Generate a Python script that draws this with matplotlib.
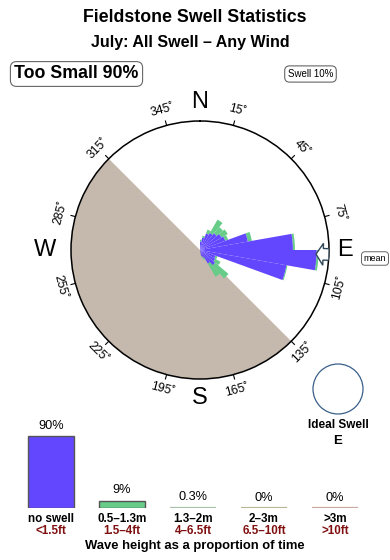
import numpy as np
import matplotlib
matplotlib.use("Agg")
import matplotlib.pyplot as plt
from matplotlib.patches import Circle

plt.rcParams['font.family'] = ['Liberation Sans', 'DejaVu Sans']

# ---------------- data ----------------
title = "Fieldstone Swell Statistics"
subtitle = "July: All Swell \u2013 Any Wind"
too_small_pct = 90
swell_pct = 10

# swell rose: direction bins (deg, compass) and % of time per height class
rose_dirs = [5, 15, 25, 35, 45, 55, 65, 75, 85, 95, 105, 115, 125, 135, 145, 155, 165]
rose_noswell = [0.8, 1.2, 1.7, 1.9, 2.1, 2.4, 2.6, 4.7, 9.0, 11.3, 8.5, 1.6, 1.7, 1.9, 1.5, 0.8, 0.6]
rose_small = [0.2, 0.2, 0.4, 1.5, 0.8, 0.7, 0.3, 0.4, 0.2, 0.2, 0.1, 0.2, 0.6, 1.7, 1.5, 0.2, 0.1]
rose_max = 12.5
bin_width = 10
mean_dir = 92
land_from, land_to = 135, 315
deg_ticks = [15, 45, 75, 105, 135, 165, 195, 225, 255, 285, 315, 345]
compass = {"N": 0, "E": 90, "S": 180, "W": 270}
ideal_dir_label = "E"

# wave height distribution
height_cats = ["no swell", "0.5\u20131.3m", "1.3\u20132m", "2\u20133m", ">3m"]
height_ft = ["<1.5ft", "1.5\u20134ft", "4\u20136.5ft", "6.5\u201310ft", ">10ft"]
height_pct = [90, 9, 0.3, 0, 0]
height_lbl = ["90%", "9%", "0.3%", "0%", "0%"]

PURPLE = "#6347FF"
GREEN = "#66CC88"
LAND = "#C4B9AC"
bar_colors = [PURPLE, GREEN, "#A8C0A8", "#B8B898", "#C8A8A0"]
bar_edges = ["#555555", "#555555", "#A8C0A8", "#B8B898", "#C8A8A0"]
DARKRED = "#801010"

W, H = 390, 560
fig = plt.figure(figsize=(W / 100, H / 100), dpi=100)

def fx(x):
    return x / W

def fy(y):
    return 1 - y / H

# ---------------- titles ----------------
fig.text(fx(195), fy(18), title, ha='center', va='center', fontsize=12.8, fontweight='bold')
fig.text(fx(190), fy(43), subtitle, ha='center', va='center', fontsize=11.5, fontweight='bold')
fig.text(fx(76.5), fy(74), f"Too Small {too_small_pct}%", ha='center', va='center', fontsize=12.8,
         fontweight='bold',
         bbox=dict(boxstyle='round,pad=0.22,rounding_size=0.35', fc='white', ec='#666666', lw=0.8))
fig.text(fx(310.5), fy(74), f"Swell {swell_pct}%", ha='center', va='center', fontsize=7,
         bbox=dict(boxstyle='round,pad=0.32,rounding_size=0.5', fc='white', ec='#666666', lw=0.8))

# ---------------- rose ----------------
cx, cy, R = 200, 250, 129
ax = fig.add_axes([fx(cx - R), fy(cy + R), 2 * R / W, 2 * R / H], projection='polar')
ax.set_theta_zero_location('N')
ax.set_theta_direction(-1)
ax.set_ylim(0, rose_max)
ax.set_xticks([])
ax.set_yticks([])
ax.grid(False)
ax.spines['polar'].set_linewidth(1.1)
ax.spines['polar'].set_color('black')
ax.set_facecolor('white')

th_land = np.radians(np.linspace(land_from, land_to, 200))
ax.fill(np.r_[th_land, 0.0], np.r_[np.full(200, rose_max), 0.0], color=LAND, lw=0, zorder=1)

th = np.radians(rose_dirs)
ax.bar(th, rose_noswell, width=np.radians(bin_width), color=PURPLE, edgecolor='none', zorder=3)
ax.bar(th, rose_small, width=np.radians(bin_width), bottom=rose_noswell, color=GREEN,
       edgecolor='none', zorder=2)

# mean direction arrow (open arrow pointing to centre)
def arrow_pt(along, across):
    r = np.hypot(along, across)
    t = np.radians(mean_dir) + np.arctan2(across, along)
    return t, r * rose_max

pts = [(0.90, 0), (0.955, 0.085), (0.955, 0.045), (1.0, 0.045), (1.0, -0.045),
       (0.955, -0.045), (0.955, -0.085)]
ats = [arrow_pt(a, c) for a, c in pts]
ax.fill([p[0] for p in ats], [p[1] for p in ats], fc='white', ec='#2F4858', lw=1.0, zorder=4)

for d in deg_ticks:
    t = np.radians(d)
    ax.plot([t, t], [rose_max, rose_max * 1.035], color='black', lw=0.8, clip_on=False, zorder=5)
    rot = (-d) % 360
    if 90 < rot < 270:
        rot -= 180
    ax.text(t, rose_max * 1.12, f"{d}\u02da", rotation=rot, rotation_mode='anchor',
            ha='center', va='center', fontsize=8.8, clip_on=False)

comp_r = {"N": 1.15, "E": 1.125, "S": 1.15, "W": 1.2}
for k, d in compass.items():
    ax.text(np.radians(d), rose_max * comp_r[k], k, ha='center', va='center', fontsize=17,
            clip_on=False)

fig.text(fx(375), fy(258.5), "mean", ha='center', va='center', fontsize=6.5,
         bbox=dict(boxstyle='round,pad=0.25,rounding_size=0.4', fc='white', ec='#666666', lw=0.7))

# ideal swell circle
fig.add_artist(Circle((338 / 100, (H - 389) / 100), 0.25, transform=fig.dpi_scale_trans,
                      fc='white', ec='#3A5F8A', lw=0.9))
fig.text(fx(338), fy(425), "Ideal Swell", ha='center', va='center', fontsize=8.5, fontweight='bold')
fig.text(fx(338), fy(441), ideal_dir_label, ha='center', va='center', fontsize=9.5, fontweight='bold')

# ---------------- bar chart ----------------
ax2 = fig.add_axes([fx(15.5), fy(508), 355 / W, 80 / H])
x = np.arange(len(height_cats))
ax2.bar(x, height_pct, width=0.648, color=bar_colors, edgecolor=bar_edges, linewidth=1.0)
for i, p in enumerate(height_pct):
    if p < 1:
        ax2.plot([i - 0.324, i + 0.324], [p, p], color=bar_colors[i], lw=1.6, solid_capstyle='butt')
ax2.set_xlim(-0.5, len(height_cats) - 0.5)
ax2.set_ylim(0, 100)
ax2.axis('off')
for i, (p, lbl) in enumerate(zip(height_pct, height_lbl)):
    ax2.annotate(lbl, (i, p), xytext=(0, 3.2), textcoords='offset points', ha='center', va='bottom',
                 fontsize=9.2)
    ax2.annotate(height_cats[i], (i, 0), xytext=(0, -8), textcoords='offset points',
                 ha='center', va='center', fontsize=8.4, fontweight='bold',
                 annotation_clip=False)
    ax2.annotate(height_ft[i], (i, 0), xytext=(0, -16.5), textcoords='offset points',
                 ha='center', va='center', fontsize=8.4, fontweight='bold', color=DARKRED,
                 annotation_clip=False)

fig.text(fx(194.5), fy(546), "Wave height as a proportion of time", ha='center', va='center',
         fontsize=9.4, fontweight='bold')

fig.savefig("out.png", dpi=100)
